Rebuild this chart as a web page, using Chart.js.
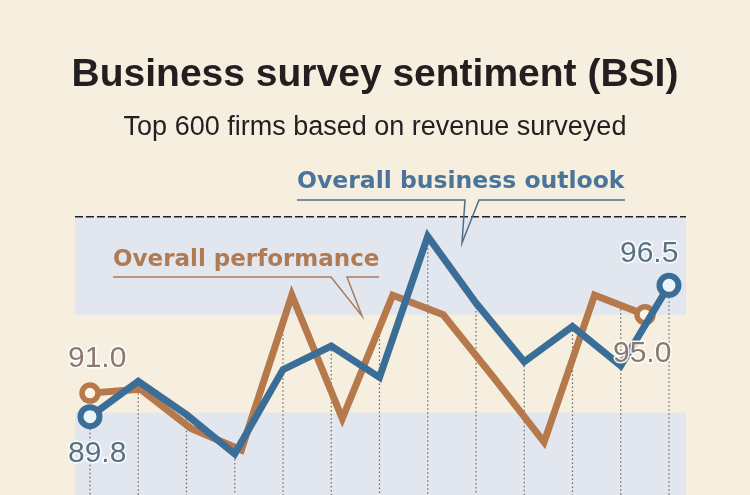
<!DOCTYPE html>
<html>
<head>
<meta charset="utf-8">
<script src="https://cdn.jsdelivr.net/npm/chart.js@4.4.1/dist/chart.umd.min.js"></script>
<style>
  html, body { margin: 0; padding: 0; background: #f6eedf; }
  canvas { display: block; }
</style>
</head>
<body>
<canvas id="bsiChart" width="750" height="495"></canvas>
<script>
// BSI readings (month labels are cropped out of the original)
const outlookPeriods = ['1', '2', '3', '4', '5', '6', '7', '8', '9', '10', '11', '12', '13'];
const outlook = [89.8, 91.6, 89.9, 87.9, 92.2, 93.4, 91.8, 99.0, 95.6, 92.6, 94.4, 92.4, 96.5];
const performancePeriods = ['1', '2', '3', '4', '5', '6', '7', '8', '9', '10', '11', '12'];
const performance = [91.0, 91.2, 89.2, 88.1, 96.0, 89.7, 96.0, 95.0, 91.8, 88.5, 96.0, 95.0];
const bandRanges = [[95, 100], [80, 90]];
const baseline = 100;

const BLUE = '#3b6e97';
const ORANGE = '#b6794b';

const decor = {
    id: 'decor',
    beforeDraw(chart) {
        const { ctx, width, height } = chart;
        ctx.save();
        ctx.fillStyle = '#f6eedf';
        ctx.fillRect(0, 0, width, height);
        ctx.restore();
    },
    beforeDatasetsDraw(chart) {
        const { ctx, chartArea, scales: { y } } = chart;
        ctx.save();
        // shaded bands
        ctx.fillStyle = '#e2e6ee';
        bandRanges.forEach(([lo, hi]) => {
            const top = y.getPixelForValue(hi);
            const bot = Math.min(y.getPixelForValue(lo), chart.height);
            ctx.fillRect(75, top, 611, bot - top);
        });
        // dashed 100 line
        const by = y.getPixelForValue(baseline);
        ctx.strokeStyle = '#222';
        ctx.lineWidth = 1.4;
        ctx.setLineDash([8, 3]);
        ctx.beginPath();
        ctx.moveTo(75, by);
        ctx.lineTo(686, by);
        ctx.stroke();
        // dotted drop lines from the upper line at each month
        const blue = chart.getDatasetMeta(0).data;
        const orange = chart.getDatasetMeta(1).data;
        ctx.strokeStyle = '#666';
        ctx.lineWidth = 1.2;
        ctx.setLineDash([1.5, 2.5]);
        blue.forEach(p => {
            let top = p.y;
            for (let k = 0; k < orange.length - 1; k++) {
                const a = orange[k], b = orange[k + 1];
                if (p.x >= a.x && p.x <= b.x) {
                    const oy = a.y + (b.y - a.y) * (p.x - a.x) / (b.x - a.x);
                    top = Math.min(top, oy);
                }
            }
            ctx.beginPath();
            ctx.moveTo(p.x, top);
            ctx.lineTo(p.x, chart.height);
            ctx.stroke();
        });
        ctx.restore();
    },
    afterDatasetsDraw(chart) {
        const { ctx } = chart;
        ctx.save();
        // series labels with callouts
        ctx.font = 'bold 23.5px "DejaVu Sans"';
        ctx.textBaseline = 'alphabetic';
        ctx.fillStyle = '#4a7499';
        ctx.fillText('Overall business outlook', 297, 188);
        ctx.strokeStyle = '#4a6f8c';
        ctx.lineWidth = 1.5;
        ctx.beginPath();
        ctx.moveTo(297, 200); ctx.lineTo(465, 200); ctx.lineTo(462, 243); ctx.lineTo(479, 200); ctx.lineTo(625, 200);
        ctx.stroke();

        ctx.font = 'bold 23px "DejaVu Sans"';
        ctx.fillStyle = '#b07b53';
        ctx.fillText('Overall performance', 113, 266);
        ctx.strokeStyle = '#a87c60';
        ctx.beginPath();
        ctx.moveTo(113, 277); ctx.lineTo(331, 277); ctx.lineTo(362, 316); ctx.lineTo(347, 277); ctx.lineTo(379, 277);
        ctx.stroke();

        // end values
        ctx.font = '30px "Liberation Sans"';
        ctx.lineJoin = 'round';
        const vals = [
            [performance[0].toFixed(1), 68, 367, '#8a7a6d'],
            [outlook[0].toFixed(1), 68, 462, '#587285'],
            [outlook[outlook.length - 1].toFixed(1), 620, 262, '#587285'],
            [performance[performance.length - 1].toFixed(1), 613, 362, '#8a7a6d']
        ];
        vals.forEach(([t, x, yy, c]) => {
            ctx.strokeStyle = 'rgba(255,255,255,0.9)';
            ctx.lineWidth = 3;
            ctx.strokeText(t, x, yy);
            ctx.fillStyle = c;
            ctx.fillText(t, x, yy);
        });
        ctx.restore();
    }
};

const endPoint = (n, r) => ctx => (ctx.dataIndex === 0 || ctx.dataIndex === n - 1) ? r : 0;

new Chart(document.getElementById('bsiChart'), {
    type: 'line',
    data: {
        datasets: [{
            label: 'Overall business outlook',
            data: outlook.map((v, i) => ({ x: i, y: v, period: outlookPeriods[i] })),
            xAxisID: 'x',
            borderColor: BLUE,
            borderWidth: 7,
            tension: 0,
            pointRadius: endPoint(outlook.length, 9.5),
            pointBorderWidth: 6,
            pointBackgroundColor: '#eaf5f8',
            pointBorderColor: BLUE
        }, {
            label: 'Overall performance',
            data: performance.map((v, i) => ({ x: i, y: v, period: performancePeriods[i] })),
            xAxisID: 'x2',
            borderColor: ORANGE,
            borderWidth: 7,
            tension: 0,
            pointRadius: endPoint(performance.length, 8),
            pointBorderWidth: 5.5,
            pointBackgroundColor: '#fff5e6',
            pointBorderColor: ORANGE
        }]
    },
    options: {
        responsive: false,
        animation: false,
        layout: { padding: 0, autoPadding: false },
        plugins: {
            legend: { display: false },
            tooltip: { enabled: false },
            title: {
                display: true,
                text: 'Business survey sentiment (BSI)',
                color: '#231f20',
                font: { family: 'Liberation Sans', size: 39, weight: 'bold' },
                padding: { top: 52, bottom: 0 }
            },
            subtitle: {
                display: true,
                text: 'Top 600 firms based on revenue surveyed',
                color: '#231f20',
                font: { family: 'Liberation Sans', size: 27 },
                padding: { top: 13, bottom: 4 }
            }
        },
        scales: {
            x: { type: 'linear', min: -1.865, max: 13.679, display: false },
            x2: { type: 'linear', min: -1.784, max: 13.081, display: false },
            y: { min: 85.8, max: 103.5, display: false }
        }
    },
    plugins: [decor]
});
</script>
</body>
</html>
